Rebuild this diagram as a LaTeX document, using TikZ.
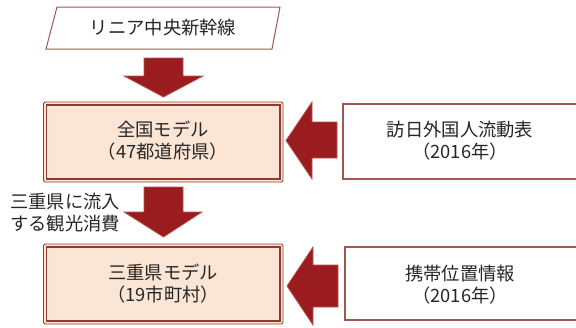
\documentclass[tikz,border=0pt]{standalone}
\usepackage{fontspec}
\setmainfont{Noto Sans CJK JP}
\definecolor{arrowred}{HTML}{9B1C1F}
\definecolor{arrowedge}{HTML}{B5524F}
\definecolor{boxedge}{HTML}{8E3B2E}
\definecolor{boxfill}{HTML}{FBE5D5}
\definecolor{txt}{HTML}{262626}
\tikzset{
  bigarrow/.style={fill=arrowred, draw=arrowedge, line width=0.8pt, line join=miter},
  modelouter/.style={draw=boxedge, line width=0.8pt, fill=boxfill, rounded corners=1.5pt},
  modelinner/.style={draw=boxedge, line width=1.3pt},
  srcbox/.style={draw=boxedge!85, line width=1.2pt, fill=white},
  lbl/.style={text=txt, font=\fontsize{18.3}{22}\selectfont, align=center, inner sep=0pt},
}
\begin{document}
\begin{tikzpicture}[x=1pt,y=-1pt]
\useasboundingbox (0,0) rectangle (576,327);
% parallelogram
\coordinate (p1) at (57,7);
\coordinate (p2) at (280,7);
\coordinate (p3) at (272,49);
\coordinate (p4) at (46,49);
\draw[srcbox, line width=1pt] (p1) -- (p2) -- (p3) -- (p4) -- cycle;
\node[lbl] (lin) at (163,28) {リニア中央新幹線};
% model boxes
\draw[modelouter] (43.5,102) rectangle (283,182);
\draw[modelinner] (46.5,105) rectangle (280,179);
\node[lbl] (zenkoku) at (163,141) {全国モデル\\（47都道府県）};
\draw[modelouter] (43.5,244) rectangle (283,324);
\draw[modelinner] (46.5,247) rectangle (280,321);
\node[lbl] (mie) at (163,284) {三重県モデル\\（19市町村）};
% source boxes
\draw[srcbox] (343,104) rectangle (580,179);
\node[lbl] (hou) at (460,141) {訪日外国人流動表\\（2016年）};
\draw[srcbox] (345,247) rectangle (580,320);
\node[lbl] (kei) at (460,285) {携帯位置情報\\（2016年）};
% down arrows
\draw[bigarrow] (144,58) -- (183,58) -- (183,76) -- (203,76) -- (163.5,97) -- (124,76) -- (144,76) -- cycle;
\draw[bigarrow] (144,187) -- (183,187) -- (183,212) -- (202,212) -- (163.5,237) -- (124,212) -- (144,212) -- cycle;
% left arrows
\draw[bigarrow] (337,122) -- (337,158) -- (312,158) -- (312,179) -- (286,140.5) -- (312,102) -- (312,122) -- cycle;
\draw[bigarrow] (338,265) -- (338,307) -- (313,307) -- (313,325) -- (287,286) -- (313,247) -- (313,265) -- cycle;
% side label
\node[lbl, align=left, anchor=west] (flow) at (10,213) {三重県に流入\\する観光消費};
\end{tikzpicture}
\end{document}
